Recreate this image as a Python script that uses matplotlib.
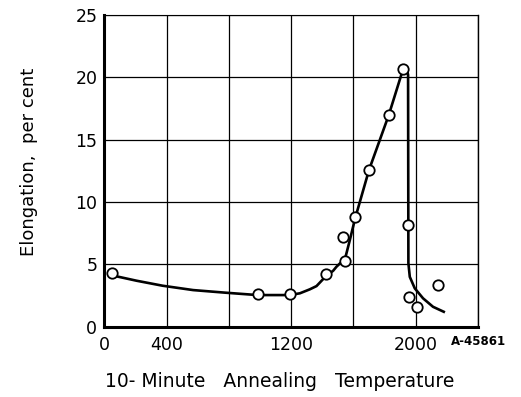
import matplotlib
matplotlib.use('Agg')
import matplotlib.pyplot as plt

# measured points (temperature F, elongation %)
temp = [47, 987, 1190, 1424, 1530, 1549, 1613, 1700, 1827, 1919, 1951, 1957, 2011, 2143]
elong = [4.33, 2.62, 2.62, 4.22, 7.17, 5.27, 8.82, 12.57, 16.98, 20.67, 8.16, 2.36, 1.6, 3.34]

# faired curve
curve_t = [69, 208, 375, 571, 779, 984, 1187, 1256, 1320, 1363, 1420, 1470, 1491, 1547, 1577,
           1611, 1700, 1827, 1919, 1947, 1951, 1953, 1962, 1994, 2047, 2111, 2180]
curve_e = [4.07, 3.69, 3.29, 2.94, 2.73, 2.54, 2.54, 2.68, 3.0, 3.26, 4.01, 4.49, 4.81, 5.48, 6.95,
           8.69, 12.57, 16.98, 20.67, 20.45, 20.2, 5.1, 4.0, 3.08, 2.28, 1.6, 1.2]

xticks = [0, 400, 1200, 2000]
yticks = [0, 5, 10, 15, 20, 25]

fig = plt.figure(figsize=(5.21, 3.97), dpi=100)
ax = fig.add_axes([0.2, 0.177, 0.7175, 0.785])

ax.plot(curve_t, curve_e, color='black', lw=1.9, solid_joinstyle='round', zorder=3)
ax.plot(temp, elong, 'o', ms=7.5, mfc='white', mec='black', mew=1.3, zorder=4)

ax.set_xlim(0, 2400)
ax.set_ylim(0, 25)
ax.set_xticks(range(0, 2401, 400))
ax.set_xticklabels([str(t) if t in xticks else '' for t in range(0, 2401, 400)])
ax.set_yticks(yticks)
ax.grid(True, color='black', lw=0.9)
ax.tick_params(length=0, labelsize=12.5, pad=7)
ax.tick_params(axis='y', pad=5)

ax.spines['left'].set_linewidth(2.2)
ax.spines['bottom'].set_linewidth(2.2)
ax.spines['right'].set_linewidth(1.0)
ax.spines['top'].set_linewidth(0.8)

ax.set_ylabel('Elongation,  per cent', fontsize=13, va='center')
ax.yaxis.set_label_coords(-0.2, 0.53)
fig.text(0.537, 0.038, '10- Minute   Annealing   Temperature', fontsize=13.5,
         ha='center', va='center')
fig.text(0.919, 0.139, 'A-45861', fontsize=8.5, fontweight='bold',
         ha='center', va='center')

fig.savefig('out.png', dpi=100)
